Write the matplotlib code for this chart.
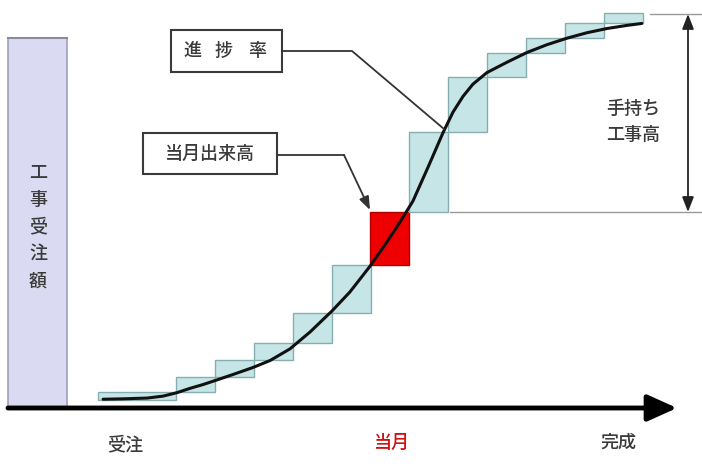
import numpy as np
import matplotlib.pyplot as plt
from matplotlib.patches import Rectangle

plt.rcParams['font.family'] = ['Noto Sans CJK JP', 'DejaVu Sans']

# monthly steps: month edges and cumulative progress (%) at each edge
step_edges = [0, 2, 3, 4, 5, 6, 7, 8, 9, 10, 11, 12, 13, 14]
step_cum = [0, 2.1, 5.9, 10.3, 14.7, 22.5, 34.9, 48.6, 69.3, 83.5, 89.7, 93.5, 97.4, 100]
current_start = 7  # 当月 starts at this month

# progress curve (S-curve)
curve_x = [0.13, 0.64, 1.26, 1.67, 2.03, 2.36, 2.70, 3.06, 3.47, 3.98, 4.42,
           4.93, 5.45, 6.01, 6.47, 6.99, 7.42, 7.76, 8.09, 8.48, 8.86, 9.12,
           9.38, 9.63, 9.99, 10.51, 11.02, 11.53, 12.05, 12.56, 13.08, 13.59, 13.97]
curve_y = [0.2, 0.3, 0.5, 1.0, 1.9, 3.0, 4.0, 5.2, 6.6, 8.4, 10.2,
           13.2, 17.6, 23.0, 27.9, 34.6, 40.8, 46.0, 51.4, 60.2, 69.0, 74.4,
           78.5, 81.6, 84.6, 87.3, 89.8, 91.8, 93.5, 94.9, 96.0, 96.8, 97.3]

x_labels = ['受注', '当月', '完成']
left_label = '工事受注額'
right_label = '手持ち\n工事高'
callouts = ['進捗率', '当月出来高']

W, H = 702, 469
fig = plt.figure(figsize=(W / 100, H / 100), dpi=100)

# data axes (months x percent)
ax = fig.add_axes([98 / W, (H - 400) / H, 545 / W, 387 / H])
ax.set_xlim(0, 14)
ax.set_ylim(0, 100)
ax.axis('off')
for i in range(len(step_edges) - 1):
    x0, x1 = step_edges[i], step_edges[i + 1]
    y0, y1 = step_cum[i], step_cum[i + 1]
    cur = x0 == current_start
    ax.add_patch(Rectangle((x0, y0), x1 - x0, y1 - y0,
                           facecolor='#ee0000' if cur else '#c6e5e6',
                           edgecolor='#b00000' if cur else '#86aeb0',
                           lw=1.0, clip_on=False))
ax.plot(curve_x, curve_y, color='#111111', lw=2.2, solid_capstyle='round',
        solid_joinstyle='round', clip_on=False)

# layout axes in pixels
lay = fig.add_axes([0, 0, 1, 1], zorder=3)
lay.set_xlim(0, W)
lay.set_ylim(H, 0)
lay.axis('off')
lay.patch.set_visible(False)

text_c = '#3a3a3a'
tkw = dict(ha='center', va='center', fontsize=13, color=text_c, fontweight='medium')

# left bar
lay.add_patch(Rectangle((8, 38), 59, 370, facecolor='#dadaf2',
                        edgecolor='#a0a0bc', lw=1.2))
lay.plot([8, 67], [38, 38], color='#8a8a9a', lw=1.5)
lay.text(38, 227, '\n'.join(left_label), linespacing=1.65, **tkw)

# bottom axis arrow
lay.annotate('', xy=(677, 408), xytext=(8, 408),
             arrowprops=dict(arrowstyle='-|>,head_length=1.0,head_width=0.45',
                             lw=3.5, color='black', mutation_scale=18,
                             shrinkA=0, shrinkB=0))

lay.text(125, 445, x_labels[0], **tkw)
lay.text(392, 443, x_labels[1], **{**tkw, 'color': '#d01010'})
lay.text(618, 443, x_labels[2], **tkw)

# callout boxes
lay.add_patch(Rectangle((171, 30), 111, 42, facecolor='white',
                        edgecolor='#3a3a3a', lw=1.5))
for ch, cx in zip(callouts[0], [192, 224, 257]):
    lay.text(cx, 51, ch, **tkw)
lay.plot([282, 352, 444], [51, 51, 129], color='#333333', lw=1.3)

lay.add_patch(Rectangle((143, 133), 134, 41, facecolor='white',
                        edgecolor='#3a3a3a', lw=1.5))
lay.text(210, 154, callouts[1], **tkw)
lay.plot([277, 344], [155, 155], color='#333333', lw=1.3)
lay.annotate('', xy=(370, 210), xytext=(344, 155),
             arrowprops=dict(arrowstyle='-|>,head_length=0.8,head_width=0.3',
                             lw=1.3, color='#333333', mutation_scale=10,
                             shrinkA=0, shrinkB=0))

# right dimension
lay.plot([650, 702], [14, 14], color='#999999', lw=1.0)
lay.plot([450, 702], [212, 212], color='#999999', lw=1.0)
lay.annotate('', xy=(688, 14), xytext=(688, 212),
             arrowprops=dict(arrowstyle='<|-|>,head_length=0.9,head_width=0.35',
                             lw=1.3, color='#222222', mutation_scale=10,
                             shrinkA=0, shrinkB=0))
lay.text(633, 122, right_label, linespacing=1.6, **tkw)

fig.savefig('out.png', dpi=100, facecolor='white')
